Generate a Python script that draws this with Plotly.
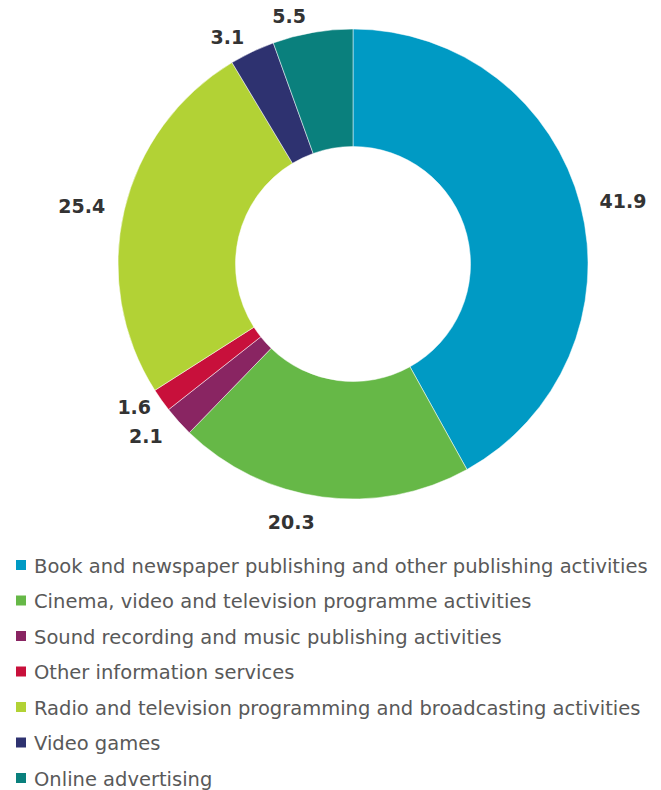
import plotly.graph_objects as go

categories = [
    "Book and newspaper publishing and other publishing activities",
    "Cinema, video and television programme activities",
    "Sound recording and music publishing activities",
    "Other information services",
    "Radio and television programming and broadcasting activities",
    "Video games",
    "Online advertising",
]
values = [41.9, 20.3, 2.1, 1.6, 25.4, 3.1, 5.5]
colors = ["#009AC4", "#66B847", "#892562", "#C8103B", "#B2D235", "#2E3270", "#0A807D"]

W, H = 661, 790
cx, cy, r = 353, 264, 235


def dom(rad):
    return dict(x=[(cx - rad) / W, (cx + rad) / W],
                y=[1 - (cy + rad) / H, 1 - (cy - rad) / H])


# visible ring
fig = go.Figure(go.Pie(
    labels=categories,
    values=values,
    sort=False,
    direction="clockwise",
    rotation=0,
    hole=0.5,
    showlegend=False,
    textinfo="none",
    hoverinfo="label+value",
    marker=dict(colors=colors, line=dict(color="white", width=0.5)),
    domain=dom(r),
))

# value labels, placed by plotly just outside transparent rings; split in
# groups so neighbouring small-slice labels are not pushed onto leader lines
label_sets = [([0, 1, 2, 4], r + 14), ([3, 5], r + 6), ([6], r + 6)]
for idx, r_lab in label_sets:
    fig.add_trace(go.Pie(
        labels=categories,
        values=values,
        sort=False,
        direction="clockwise",
        rotation=0,
        hole=0.95,
        showlegend=False,
        hoverinfo="skip",
        marker=dict(colors=["rgba(0,0,0,0)"] * len(values), line=dict(width=0)),
        texttemplate=["%{value:.1f}" if i in idx else "" for i in range(len(values))],
        textposition="outside",
        outsidetextfont=dict(family="DejaVu Sans", size=19, color="#333333", weight="bold"),
        domain=dom(r_lab),
    ))

# Legend built from the category list and colours
row0, step = 565, 35.5
shapes, annotations = [], []
for i, (name, col) in enumerate(zip(categories, colors)):
    yc = row0 + step * i
    shapes.append(dict(
        type="rect", xref="paper", yref="paper",
        x0=16 / W, x1=26 / W,
        y0=1 - (yc + 5) / H, y1=1 - (yc - 5) / H,
        fillcolor=col, line=dict(width=0),
    ))
    annotations.append(dict(
        text=name, xref="paper", yref="paper",
        x=32 / W, y=1 - (yc + 1) / H,
        xanchor="left", yanchor="middle", showarrow=False,
        font=dict(family="DejaVu Sans", size=19.5, color="#595959"),
    ))

fig.update_layout(
    width=W, height=H,
    margin=dict(l=0, r=0, t=0, b=0),
    paper_bgcolor="white",
    showlegend=False,
    shapes=shapes,
    annotations=annotations,
)

fig.write_html(
    "out.html",
    config={"displayModeBar": False},
    post_script=(
        "document.documentElement.style.overflow='hidden';"
        "document.body.style.margin='0';document.body.style.overflow='hidden';"
    ),
)
